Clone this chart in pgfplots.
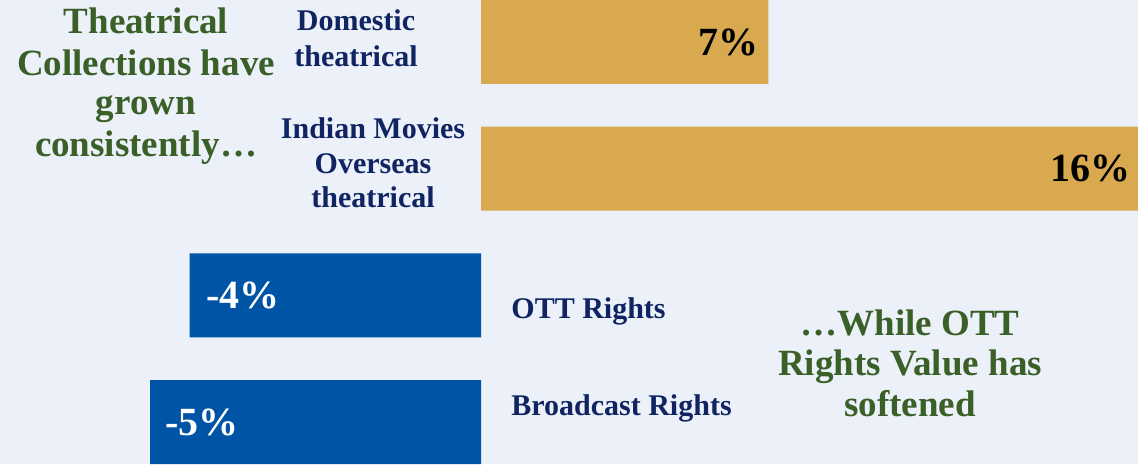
\documentclass[border=0pt]{standalone}
\usepackage{pgfplots}
\pgfplotsset{compat=1.18}
\usepackage{fontspec}
\setmainfont{Liberation Serif}

\definecolor{bgc}{HTML}{EBF0F9}
\definecolor{gold}{HTML}{D8A94F}
\definecolor{blu}{HTML}{0054A6}
\definecolor{grn}{HTML}{3A5F27}
\definecolor{navy}{HTML}{0F2461}

\pgfplotsset{
  barax/.style={
    at={(0pt,0pt)}, anchor=south west,
    scale only axis, width=569pt, height=232pt,
    axis lines=none, xtick=\empty, ytick=\empty, clip=false,
    xbar, bar width=42pt, bar shift=0pt,
    ymin=-0.335, ymax=3.3276,
  }
}
\tikzset{pct/.style={inner sep=0pt, font=\fontsize{20}{20}\selectfont\bfseries}}

\begin{document}
\begin{tikzpicture}
\fill[bgc] (0pt,0pt) rectangle (569pt,232pt);

% theatrical (own scale)
\begin{axis}[barax, xmin=-11.714, xmax=16]
\addplot[fill=gold, draw=none] coordinates {(7,3) (16,2)};
\node[pct, anchor=east, xshift=-5pt] at (axis cs:7,3) {7\%};
\node[pct, anchor=east, xshift=-3.5pt] at (axis cs:16,2) {16\%};
\end{axis}

% rights (own scale)
\begin{axis}[barax, xmin=-7.266, xmax=9.924]
\addplot[fill=blu, draw=none] coordinates {(-4.4,1) (-5,0)};
\node[pct, anchor=west, xshift=8pt, text=white] at (axis cs:-4.4,1) {-4\%};
\node[pct, anchor=west, xshift=7.5pt, text=white] at (axis cs:-5,0) {-5\%};
\end{axis}

% category labels
\begin{scope}[every node/.style={anchor=base, text=navy, inner sep=0pt,
    font=\fontsize{15}{15}\selectfont\bfseries}]
\node at (178pt,217pt) {Domestic};
\node at (178pt,199pt) {theatrical};
\node at (186.5pt,163pt) {Indian Movies};
\node at (186.5pt,145.5pt) {Overseas};
\node at (186.5pt,128.5pt) {theatrical};
\node[anchor=base west] at (255.5pt,73pt) {OTT Rights};
\node[anchor=base west] at (255.5pt,24.5pt) {Broadcast Rights};
\end{scope}

% commentary
\begin{scope}[every node/.style={anchor=base, text=grn, inner sep=0pt,
    font=\fontsize{18.5}{18.5}\selectfont\bfseries}]
\node at (73pt,215.5pt) {Theatrical};
\node at (73pt,194.5pt) {Collections have};
\node at (73pt,175pt) {grown};
\node at (73pt,154pt) {consistently…};
\node at (455pt,64.5pt) {…While OTT};
\node at (455pt,44.5pt) {Rights Value has};
\node at (455pt,24pt) {softened};
\end{scope}
\end{tikzpicture}
\end{document}
